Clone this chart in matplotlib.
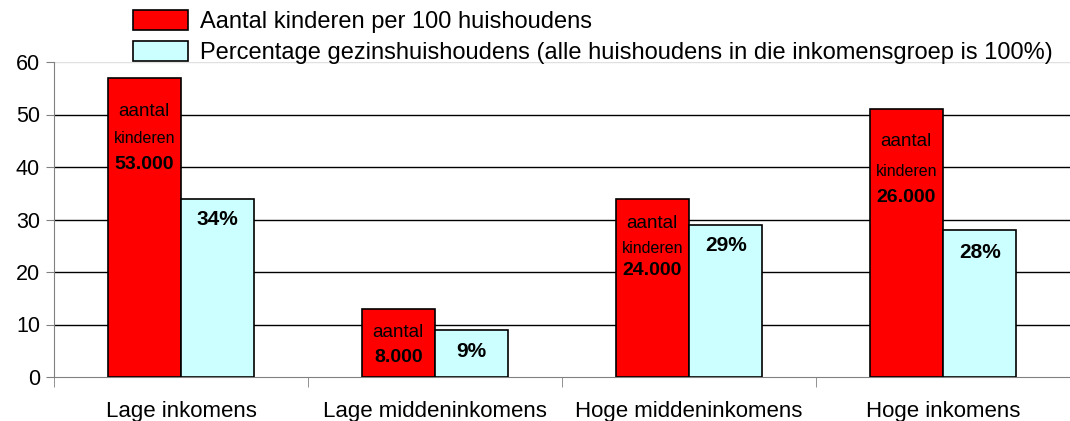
import matplotlib.pyplot as plt
import numpy as np

plt.rcParams['font.family'] = ['Liberation Sans', 'DejaVu Sans']

# Data
categories = ["Lage inkomens", "Lage middeninkomens", "Hoge middeninkomens", "Hoge inkomens"]
kinderen = [57, 13, 34, 51]
gezin_pct = [34, 9, 29, 28]
kind_labels = ["53.000", "8.000", "24.000", "26.000"]
pct_labels = ["34%", "9%", "29%", "28%"]
show_kinderen_word = [True, False, True, True]

# label offsets (px below bar top)
red_offsets = [(34, 61, 87), (24, None, 49), (25, 50, 72), (32, 62, 88)]
cyan_offsets = [21, 22, 21, 23]

fig = plt.figure(figsize=(10.70, 4.21), dpi=100)
ax = fig.add_axes([54 / 1070, 1 - 377 / 421, 1 - 54 / 1070, (377 - 62) / 421])

x = np.arange(len(categories))
w = 0.289
red = ax.bar(x - w / 2, kinderen, width=w, color='#FF0000', edgecolor='black', linewidth=1.2,
             label='Aantal kinderen per 100 huishoudens', zorder=3)
cyan = ax.bar(x + w / 2, gezin_pct, width=w, color='#CCFFFF', edgecolor='black', linewidth=1.2,
              label='Percentage gezinshuishoudens (alle huishoudens in die inkomensgroep is 100%)', zorder=3)

# text in bars
for i in range(len(categories)):
    xr = x[i] - w / 2
    o1, o2, o3 = red_offsets[i]
    ax.annotate('aantal', (xr, kinderen[i]), xytext=(0, -o1 * 0.72), textcoords='offset points',
                ha='center', va='center', fontsize=13.5, zorder=4)
    if show_kinderen_word[i]:
        ax.annotate('kinderen', (xr, kinderen[i]), xytext=(0, -o2 * 0.72), textcoords='offset points',
                    ha='center', va='center', fontsize=11.5, zorder=4)
    ax.annotate(kind_labels[i], (xr, kinderen[i]), xytext=(0, -o3 * 0.72), textcoords='offset points',
                ha='center', va='center', fontsize=14, fontweight='bold', zorder=4)
    ax.annotate(pct_labels[i], (x[i] + w / 2, gezin_pct[i]), xytext=(0, -cyan_offsets[i] * 0.72),
                textcoords='offset points', ha='center', va='center', fontsize=15,
                fontweight='bold', zorder=4)

ax.set_ylim(0, 60)
ax.set_xlim(-0.5, -0.5 + 1016 / 256.1)
ax.set_yticks(range(0, 61, 10))
ax.tick_params(axis='y', labelsize=15.5, length=6, color='#808080', pad=4)

ax.set_xticks(x)
ax.set_xticklabels(categories, fontsize=16)
ax.tick_params(axis='x', length=0, pad=17)
ax.set_xticks(np.arange(-0.5, 4, 1), minor=True)
ax.tick_params(axis='x', which='minor', length=7, color='#808080')

for yv in range(10, 60, 10):
    ax.axhline(yv, color='black', linewidth=1.0, zorder=1)
ax.axhline(60, color='#e0e0e0', linewidth=1.0, zorder=1)

for s in ['top', 'right']:
    ax.spines[s].set_visible(False)
ax.spines['left'].set_color('#808080')
ax.spines['bottom'].set_color('#808080')

fig.legend(handles=[red, cyan], loc='upper left', bbox_to_anchor=(133 / 1070, 1 - 10 / 421),
           frameon=False, fontsize=17, handlelength=2.33, handleheight=0.93,
           labelspacing=0.33, handletextpad=0.5, borderaxespad=0, borderpad=0)

fig.savefig('out.png', dpi=100)
